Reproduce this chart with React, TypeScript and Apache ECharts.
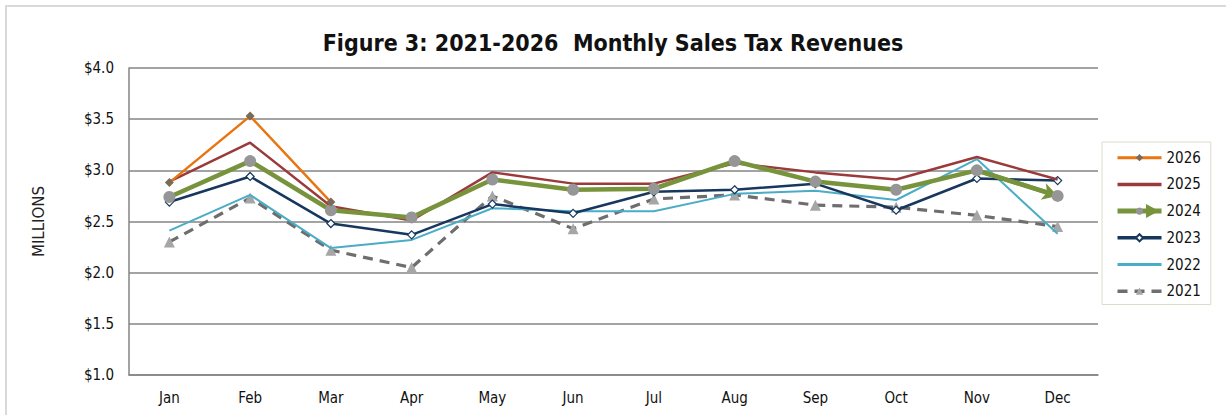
import React, { useEffect, useRef } from "react";
import * as echarts from "echarts";

const months = ["Jan", "Feb", "Mar", "Apr", "May", "Jun", "Jul", "Aug", "Sep", "Oct", "Nov", "Dec"];
const y2026 = [2.88, 3.53, 2.69, null, null, null, null, null, null, null, null, null];
const y2025 = [2.89, 3.27, 2.65, 2.51, 2.98, 2.87, 2.87, 3.07, 2.98, 2.91, 3.13, 2.91];
const y2024 = [2.74, 3.09, 2.61, 2.54, 2.91, 2.81, 2.82, 3.09, 2.89, 2.81, 3.0, 2.75];
const y2023 = [2.69, 2.94, 2.48, 2.37, 2.67, 2.58, 2.79, 2.81, 2.87, 2.61, 2.92, 2.9];
const y2022 = [2.41, 2.76, 2.24, 2.32, 2.63, 2.6, 2.6, 2.77, 2.8, 2.71, 3.11, 2.38];
const y2021 = [2.3, 2.73, 2.22, 2.05, 2.75, 2.43, 2.72, 2.76, 2.66, 2.64, 2.56, 2.45];
const legendOrder = ["2026", "2025", "2024", "2023", "2022", "2021"];
const noMarkerInLegend = ["2025", "2022"];
const legendLineWidth: Record<string, number> = { "2026": 3, "2025": 3.5, "2024": 5, "2023": 3.5, "2022": 3, "2021": 3.5 };

const FONT = "DejaVu Sans Condensed, DejaVu Sans, sans-serif";

export default function App() {
  const ref = useRef<HTMLDivElement>(null);
  useEffect(() => {
    document.body.style.margin = "0";
    const chart = echarts.init(ref.current!, null, { renderer: "svg" });
    chart.setOption({
      animation: false,
      backgroundColor: "#ffffff",
      title: {
        text: "Figure 3: 2021-2026  Monthly Sales Tax Revenues",
        left: "center",
        top: 26,
        textStyle: { fontFamily: FONT, fontWeight: "bold", fontSize: 23, color: "#111" },
      },
      graphic: [
        {
          type: "rect",
          shape: { x: 6, y: 6, width: 1240, height: 430 },
          style: { fill: "none", stroke: "#d9d9d9", lineWidth: 2 },
          silent: true,
        },
        {
          type: "polygon",
          shape: { points: [[1146, 204], [1159, 211], [1146, 218]] },
          style: { fill: "#77933c" },
          silent: true,
          z: 100,
        },
      ],
      legend: {
        orient: "vertical",
        left: 1102,
        top: 142,
        data: legendOrder.map((n) => {
          const item: any = { name: n, lineStyle: { width: legendLineWidth[n] } };
          if (noMarkerInLegend.includes(n)) item.itemStyle = { opacity: 0 };
          return item;
        }),
        itemWidth: 44,
        itemHeight: 9,
        itemGap: 11.7,
        padding: [8.2, 10, 5.8, 13],
        borderColor: "#dcdccc",
        borderWidth: 1,
        textStyle: { fontFamily: FONT, fontSize: 15, color: "#111" },
      },
      grid: { left: 129, right: 128, top: 68, bottom: 40 },
      xAxis: {
        type: "category",
        data: months,
        boundaryGap: true,
        axisLine: { lineStyle: { color: "#858585", width: 1.5 } },
        axisTick: { show: false },
        axisLabel: { fontFamily: FONT, fontSize: 15, color: "#111", margin: 15 },
      },
      yAxis: {
        type: "value",
        min: 1,
        max: 4,
        interval: 0.5,
        name: "MILLIONS",
        nameLocation: "middle",
        nameRotate: 90,
        nameGap: 83,
        nameTextStyle: { fontFamily: "DejaVu Sans, sans-serif", fontSize: 15, color: "#222" },
        axisLine: { show: true, lineStyle: { color: "#858585", width: 1.5 } },
        axisTick: { show: false },
        splitLine: { lineStyle: { color: "#858585", width: 1.5 } },
        axisLabel: {
          fontFamily: FONT,
          fontSize: 15,
          color: "#111",
          margin: 15,
          formatter: (v: number) => "$" + v.toFixed(1),
        },
      },
      series: [
        {
          name: "2021",
          type: "line",
          data: y2021,
          z: 2,
          lineStyle: { color: "#6e6e6e", width: 3.2, type: [10, 7] },
          itemStyle: { color: "#a6a6a6" },
          symbol: "triangle",
          symbolSize: 11,
          showSymbol: true,
        },
        {
          name: "2022",
          type: "line",
          data: y2022,
          z: 3,
          lineStyle: { color: "#4bacc6", width: 2 },
          itemStyle: { color: "#4bacc6" },
          symbol: "none",
        },
        {
          name: "2023",
          type: "line",
          data: y2023,
          z: 4,
          lineStyle: { color: "#17375e", width: 2.5 },
          itemStyle: { color: "#ffffff", borderColor: "#17375e", borderWidth: 1.2 },
          symbol: "diamond",
          symbolSize: 8,
        },
        {
          name: "2025",
          type: "line",
          data: y2025,
          z: 5,
          lineStyle: { color: "#9b3a3a", width: 2.5 },
          itemStyle: { color: "#9b3a3a" },
          symbol: "none",
        },
        {
          name: "2024",
          type: "line",
          data: y2024,
          z: 6,
          lineStyle: { color: "#77933c", width: 4.5 },
          itemStyle: { color: "#969696" },
          symbol: "circle",
          symbolSize: 12,
          markLine: {
            silent: true,
            symbol: ["none", "arrow"],
            symbolSize: [13, 15],
            label: { show: false },
            lineStyle: { color: "#77933c", width: 4.5, type: "solid" },
            data: [[{ coord: [months[10], y2024[10]] }, { coord: [months[11], y2024[11]] }]],
          },
        },
        {
          name: "2026",
          type: "line",
          data: y2026,
          z: 7,
          lineStyle: { color: "#e8750f", width: 2.5 },
          itemStyle: { color: "#7a6a5a" },
          symbol: "diamond",
          symbolSize: 9,
        },
      ],
    });
    return () => chart.dispose();
  }, []);
  return <div ref={ref} style={{ width: 1226, height: 415 }} />;
}
